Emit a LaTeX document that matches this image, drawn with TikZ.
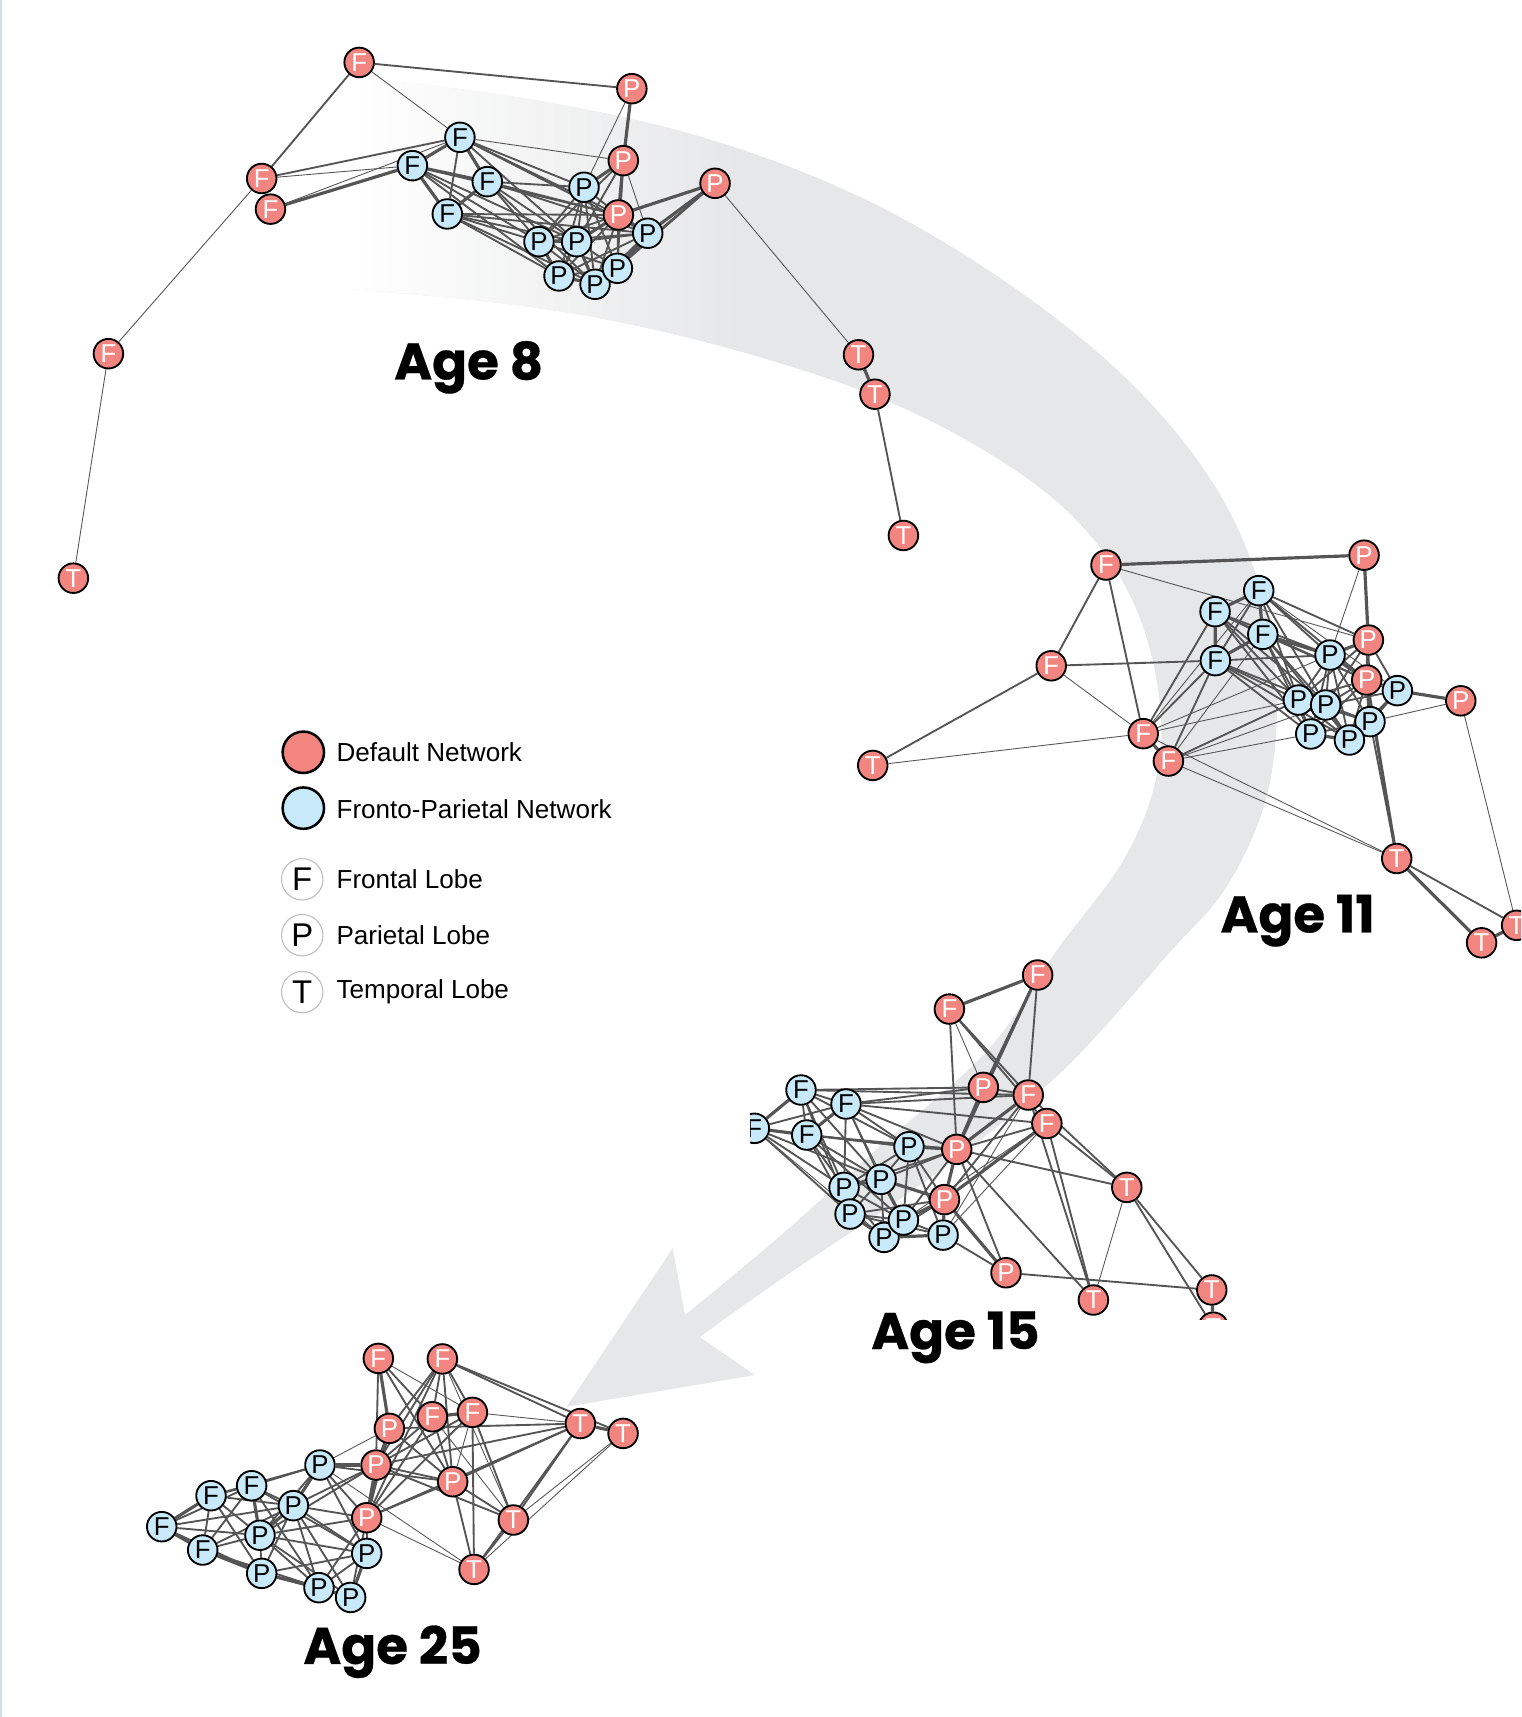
\documentclass[tikz,border=0pt]{standalone}
\usepackage{fontspec}
\setmainfont{Liberation Sans}
\newfontfamily\agefont{Poppins}[BoldFeatures={FakeBold=0.6}]
\definecolor{nodered}{RGB}{243,133,128}
\definecolor{nodeblue}{RGB}{200,233,250}
\definecolor{edgegray}{RGB}{85,85,85}
\definecolor{bandgray}{RGB}{230,231,232}
\definecolor{ringgray}{RGB}{190,190,190}
\definecolor{sideline}{RGB}{205,222,236}
\pgfdeclarehorizontalshading{bandshade}{100bp}{color(0bp)=(white); color(25bp)=(white); color(46bp)=(bandgray); color(100bp)=(bandgray)}
\pgfdeclarelayer{bandlayer}
\pgfdeclarelayer{edgelayer}
\pgfsetlayers{bandlayer,edgelayer,main}
\newcommand\bandshape[1]{\path[#1] plot[smooth,tension=0.6] coordinates {(320,70) (480,90) (640,125) (790,182) (925,262) (1035,352) (1112,448) (1153,545) (1166,640) (1156,730) (1120,810) (1068,870) (968,980) (850,1075) (712,1169) (639,1221)} -- (689.5,1255.7) -- (517.5,1284.6) -- (614.3,1140) -- plot[smooth,tension=0.6] coordinates {(625.6,1200.9) (712,1129) (800,1050) (902,959) (965,868) (1028,782) (1058,700) (1056,620) (1030,540) (978,470) (900,412) (800,362) (680,322) (560,293) (450,276) (320,264)} -- cycle;}
\begin{document}
\begin{tikzpicture}[x=0.5pt,y=-0.5pt,
  nd/.style={circle,draw=black,line width=0.85pt,minimum size=13.5pt,inner sep=0pt,font=\fontsize{11.8}{12}\selectfont},
  rd/.style={nd,fill=nodered,text=white},
  bl/.style={nd,fill=nodeblue,text=black},
  e1/.style={draw=edgegray,line width=0.4pt},
  e2/.style={draw=edgegray,line width=0.85pt},
  e3/.style={draw=edgegray,line width=1.45pt},
  lgdot/.style={circle,draw=black,line width=1.15pt,minimum size=18.9pt,inner sep=0pt},
  lglobe/.style={circle,draw=ringgray,line width=0.5pt,minimum size=18.9pt,inner sep=0pt,font=\fontsize{15}{16}\selectfont},
  lgtext/.style={anchor=west,inner sep=0pt,font=\fontsize{11.9}{14}\selectfont},
  agelbl/.style={anchor=base,inner sep=0pt,font=\agefont\bfseries\fontsize{23.5}{26}\selectfont}]
\useasboundingbox (0,0) rectangle (1389,1568);
\clip (0,0) rectangle (1389,1568);
\fill[sideline] (0,0) rectangle (1.5,1568);

% ---------- band arrow ----------
\begin{pgfonlayer}{bandlayer}
\bandshape{fill=bandgray}
\begin{scope}
\clip (0,0) rectangle (760,420);
\bandshape{shade,shading=bandshade}
\end{scope}
\end{pgfonlayer}

% ---------- Age 8 ----------
\node[rd] (aF1) at (328,57) {F};
\node[rd] (aP1) at (577,81) {P};
\node[rd] (aF2) at (239,163) {F};
\node[rd] (aF3) at (247,191) {F};
\node[rd] (aF4) at (99,323) {F};
\node[rd] (aT1) at (67,528) {T};
\node[bl] (aB1) at (420,125.4) {F};
\node[bl] (aB2) at (376.6,151.3) {F};
\node[bl] (aB3) at (445,165.9) {F};
\node[bl] (aB4) at (408.5,195.4) {F};
\node[rd] (aR2) at (569.2,146.7) {P};
\node[bl] (aB5) at (533.3,171) {P};
\node[rd] (aR3) at (564.7,196.3) {P};
\node[rd] (aR4) at (653,167.4) {P};
\node[bl] (aB6) at (492.2,220.7) {P};
\node[bl] (aB7) at (526.6,220.7) {P};
\node[bl] (aB8) at (591.5,213) {P};
\node[bl] (aB9) at (510.5,252) {P};
\node[bl] (aB10) at (543.4,259.6) {P};
\node[bl] (aB11) at (563.8,245) {P};
\node[rd] (aT2) at (784,324) {T};
\node[rd] (aT3) at (799,360) {T};
\node[rd] (aT4) at (825,489) {T};
\node[agelbl] (lab8) at (428,346.5) {Age 8};

% ---------- Age 11 ----------
\node[rd] (bF1) at (1010,516) {F};
\node[rd] (bP1) at (1245.7,507) {P};
\node[rd] (bF2) at (960,608) {F};
\node[rd] (bT1) at (797,699) {T};
\node[rd] (bF3) at (1044,670) {F};
\node[rd] (bF4) at (1067,695) {F};
\node[rd] (bT2) at (1275.5,784) {T};
\node[rd] (bT3) at (1353,861) {T};
\node[rd] (bT4) at (1385,845) {T};
\node[rd] (bR5) at (1334,640) {P};
\node[bl] (bB1) at (1149.5,539.4) {F};
\node[bl] (bB2) at (1109.6,558.6) {F};
\node[bl] (bB3) at (1153.2,579.3) {F};
\node[bl] (bB4) at (1109.9,603.3) {F};
\node[rd] (bR2) at (1249.6,584.5) {P};
\node[bl] (bB5) at (1214.6,598.2) {P};
\node[rd] (bR3) at (1248.1,621) {P};
\node[bl] (bB6) at (1276.1,630.7) {P};
\node[bl] (bB7) at (1185.7,639.3) {P};
\node[bl] (bB8) at (1210.6,643.8) {P};
\node[bl] (bB9) at (1251.1,659) {P};
\node[bl] (bB10) at (1197,670.3) {P};
\node[bl] (bB11) at (1232.3,675.8) {P};
\node[agelbl] (lab11) at (1185,851.5) {Age 11};

% ---------- Age 15 ----------
\begin{scope}
\clip (685,860) rectangle (1200,1205);
\node[rd] (cF1) at (947.6,890.4) {F};
\node[rd] (cF2) at (867,921.5) {F};
\node[rd] (cR1) at (898,993) {P};
\node[rd] (cF3) at (939,1000) {F};
\node[rd] (cF4) at (956,1026) {F};
\node[rd] (cR2) at (873.7,1049.6) {P};
\node[rd] (cR3) at (862.5,1095.5) {P};
\node[rd] (cR4) at (918.7,1162.3) {P};
\node[rd] (cT1) at (1029,1084.3) {T};
\node[rd] (cT2) at (998.5,1187.2) {T};
\node[rd] (cT3) at (1106.6,1178) {T};
\node[rd] (cT4) at (1108,1212) {T};
\node[bl] (cB1) at (731.5,995.4) {F};
\node[bl] (cB2) at (772.6,1008.2) {F};
\node[bl] (cB3) at (688.9,1030.4) {F};
\node[bl] (cB4) at (736.7,1036.5) {F};
\node[bl] (cB5) at (830.1,1047.2) {P};
\node[bl] (cB6) at (804.6,1077) {P};
\node[bl] (cB7) at (770.8,1084.3) {P};
\node[bl] (cB8) at (776.3,1108.7) {P};
\node[bl] (cB10) at (807.3,1130) {P};
\node[bl] (cB9) at (825,1114.2) {P};
\node[bl] (cB11) at (861.2,1127.9) {P};
\end{scope}
\node[agelbl] (lab15) at (872.5,1232) {Age 15};

% ---------- Age 25 ----------
\node[rd] (dF1) at (345.5,1240.5) {F};
\node[rd] (dF2) at (404,1241) {F};
\node[rd] (dF3) at (394.8,1293.8) {F};
\node[rd] (dF4) at (431.4,1289.8) {F};
\node[rd] (dR1) at (355.6,1304.4) {P};
\node[bl] (dB1) at (292.2,1337.9) {P};
\node[rd] (dR2) at (343.4,1337.9) {P};
\node[rd] (dR3) at (413.4,1353.1) {P};
\node[rd] (dT1) at (530,1300) {T};
\node[rd] (dT2) at (569,1309) {T};
\node[rd] (dT3) at (468.8,1388.1) {T};
\node[rd] (dT4) at (432.9,1433.2) {T};
\node[bl] (dB2) at (229.8,1356.8) {F};
\node[bl] (dB3) at (192.7,1365.9) {F};
\node[bl] (dB4) at (267.9,1375) {P};
\node[rd] (dR4) at (334.9,1386) {P};
\node[bl] (dB5) at (147.7,1394.2) {F};
\node[bl] (dB6) at (237.4,1402) {P};
\node[bl] (dB7) at (185.1,1415.5) {F};
\node[bl] (dB8) at (334.9,1418.6) {P};
\node[bl] (dB9) at (239,1436.8) {P};
\node[bl] (dB10) at (291.3,1449.9) {P};
\node[bl] (dB11) at (320.2,1458.8) {P};
\node[agelbl] (lab25) at (358.5,1519.5) {Age 25};

% ---------- legend ----------
\node[lgdot,fill=nodered] (lgR) at (277,687) {};
\node[lgdot,fill=nodeblue] (lgB) at (277,738) {};
\node[lglobe] (lgF) at (276,803) {F};
\node[lglobe] (lgP) at (276,854) {P};
\node[lglobe] (lgT) at (276,906) {T};
\node[lgtext] (lgRt) at (307,687) {Default Network};
\node[lgtext] (lgBt) at (307,739) {Fronto-Parietal Network};
\node[lgtext] (lgFt) at (307,803) {Frontal Lobe};
\node[lgtext] (lgPt) at (307,854) {Parietal Lobe};
\node[lgtext] (lgTt) at (307,906) {Temporal Lobe};

% ---------- edges ----------
\begin{pgfonlayer}{edgelayer}
% Age 8
\foreach \u/\v in {aF1/aB1, aF2/aF4, aF4/aT1, aP1/aB5, aR4/aT2, aB1/aR2, aF3/aB1, aF2/aB2, aR2/aB8, aP1/aR3}
  \draw[e1] (\u) -- (\v);
\foreach \u/\v in {aF1/aP1, aF1/aF2, aF2/aB1, aT3/aT4, aB1/aB4,
  aB1/aB5, aB1/aR3, aB1/aB8, aB1/aB7, aB2/aB6, aB2/aB9, aB2/aB7, aB2/aR3, aB3/aB5, aB3/aB6, aB3/aB7, aB3/aR3, aB3/aB10, aB3/aB8,
  aB4/aB7, aB4/aR3, aB4/aB9, aB4/aB6, aB4/aB10, aB4/aB8, aR2/aB6, aR2/aB7, aR2/aB11, aB5/aR3, aB5/aB6, aB5/aB7, aB5/aB9, aB5/aB10, aB5/aB11,
  aR3/aB6, aR3/aB9, aR3/aB10, aR3/aB11, aR4/aB11, aR4/aB10, aB6/aB7, aB6/aB10, aB6/aB11, aB7/aB11, aB7/aB8, aB8/aB10, aB9/aB11, aB6/aB8, aB9/aB8}
  \draw[e2] (\u) -- (\v);
\foreach \u/\v in {aF3/aB2, aP1/aR2, aT2/aT3, aB1/aB2, aB1/aB3, aB2/aB3, aB2/aB4, aB3/aB4, aR2/aB5, aR2/aR3, aR3/aR4, aR4/aB8,
  aR3/aB7, aR3/aB8, aB6/aB9, aB7/aB9, aB7/aB10, aB9/aB10, aB10/aB11, aB8/aB11}
  \draw[e3] (\u) -- (\v);
% Age 11
\foreach \u/\v in {bF1/bR2, bF2/bF3, bT1/bF3, bF3/bT2, bF4/bT2, bP1/bB5, bR5/bT4, bB9/bR5, bF3/bB1, bF4/bB3, bF4/bB8, bF3/bB7, bF4/bB10, bB1/bB6, bF3/bB5}
  \draw[e1] (\u) -- (\v);
\foreach \u/\v in {bF1/bF2, bF1/bF3, bF2/bT1, bF2/bB4, bT2/bT4, bB9/bT2, bF3/bB2, bF3/bB4, bF4/bB4, bF4/bB7, bB1/bB4, bB2/bB3,
  bB1/bB5, bB1/bR2, bB1/bR3, bB1/bB7, bB1/bB8, bB2/bB5, bB2/bB7, bB2/bB8, bB2/bR3, bB3/bB7, bB3/bB8, bB3/bR3, bB3/bB10,
  bB4/bB7, bB4/bB8, bB4/bB10, bB4/bB11, bB4/bB5, bB3/bB11, bB2/bB10,
  bR2/bB6, bR2/bB7, bR2/bB8, bR2/bB9, bB5/bB7, bB5/bB8, bB5/bB9, bB5/bB10, bB5/bB11, bR3/bB7, bR3/bB8, bR3/bB10, bR3/bB11,
  bB6/bB11, bB7/bB10, bB7/bB11, bB7/bB9, bB8/bB9, bB9/bB10, bB6/bB8}
  \draw[e2] (\u) -- (\v);
\foreach \u/\v in {bF1/bP1, bF3/bF4, bT3/bT4, bT2/bT3, bP1/bR2, bB6/bR5, bR3/bT2, bB1/bB2, bB1/bB3, bB2/bB4, bB3/bB4, bB3/bB5,
  bR2/bR3, bR2/bB5, bB5/bR3, bR3/bB6, bR3/bB9, bB7/bB8, bB8/bB10, bB10/bB11, bB9/bB11, bB6/bB9, bB8/bB11}
  \draw[e3] (\u) -- (\v);
% Age 25
\foreach \u/\v in {dF1/dF4, dF4/dT1, dF4/dR3, dR1/dB1, dR4/dT4, dT2/dT3, dT2/dT4, dF2/dT3, dF3/dT3, dB1/dT4}
  \draw[e1] (\u) -- (\v);
\foreach \u/\v in {dF1/dR2, dF1/dF3, dF1/dR3, dF2/dR1, dF2/dF3, dF2/dF4, dF2/dR2, dF2/dR3, dF2/dT1, dF2/dT2, dF2/dR4,
  dF3/dR2, dF3/dR3, dF3/dR4, dF4/dT3, dF4/dT4, dF4/dR2, dF4/dR4, dR1/dR2, dR1/dT1, dR1/dR3,
  dB1/dB3, dB1/dB2, dB1/dR4, dB1/dB6, dB1/dB8, dB1/dR3, dR2/dT1, dR2/dT3, dR2/dR3, dR2/dB4, dR2/dB6,
  dR3/dT3, dR3/dT4, dR3/dT1, dR3/dR4, dR4/dB8, dR4/dB11, dR4/dT1, dR4/dB4, dR4/dB6, dR4/dB10,
  dT1/dT3, dT1/dT4, dT3/dT4,
  dB5/dB2, dB5/dB4, dB5/dB6, dB5/dB9, dB3/dB2, dB3/dB7, dB3/dB4, dB3/dB6, dB3/dB9, dB2/dB4, dB2/dB7, dB2/dB10,
  dB7/dB6, dB7/dB4, dB7/dB10, dB4/dB9, dB4/dB10, dB4/dB11, dB4/dB8, dB6/dB9, dB6/dB10, dB6/dB8, dB6/dB11, dB9/dB11, dB8/dB9, dB8/dB10, dB2/dB8}
  \draw[e2] (\u) -- (\v);
\foreach \u/\v in {dF1/dR1, dF3/dF4, dR1/dR4, dB1/dR2, dB1/dB4, dR2/dR4, dT1/dT2,
  dB5/dB3, dB5/dB7, dB2/dB6, dB7/dB9, dB4/dB6, dB9/dB10, dB10/dB11, dB8/dB11}
  \draw[e3] (\u) -- (\v);
% Age 15 (clipped)
\begin{scope}
\clip (685,860) rectangle (1200,1205);
\foreach \u/\v in {cT1/cT2, cB11/cF4, cB11/cF3, cF2/cR1, cB2/cB9, cB3/cB10, cB9/cF4}
  \draw[e1] (\u) -- (\v);
\foreach \u/\v in {cF1/cR1, cF1/cF3, cF2/cR2, cF2/cF3, cF2/cF4, cR1/cF3, cB2/cF3, cB1/cF3, cB2/cF4, cB1/cR1, cB2/cR1,
  cR2/cF4, cR3/cF3, cF4/cT1, cF3/cT1, cF4/cT2, cF3/cT2, cR2/cT1, cR2/cT2, cR2/cR4, cB11/cR4, cR4/cT3, cT1/cT3, cT1/cT4,
  cB1/cB2, cB1/cB4, cB2/cB3,
  cB1/cB5, cB1/cB7, cB1/cB6, cB1/cB8, cB2/cB5, cB2/cB7, cB2/cB6, cB2/cR2, cB3/cB7, cB3/cB8, cB3/cB6, cB3/cB5,
  cB4/cB5, cB4/cB7, cB4/cB8, cB4/cB6, cB4/cB9, cB4/cR2, cB5/cB6, cB5/cB7, cB5/cB9, cB5/cR3, cB5/cB11,
  cB6/cB8, cB6/cB10, cB6/cR2, cB7/cB9, cB7/cB10, cB7/cR2, cB8/cB9, cB8/cB11, cB9/cB11, cB9/cR2, cB10/cR3, cB8/cR3}
  \draw[e2] (\u) -- (\v);
\foreach \u/\v in {cF1/cF2, cF1/cR2, cR1/cR2, cR2/cF3, cR3/cF4, cR3/cR4, cT3/cT4, cR2/cR3, cB5/cR2,
  cB3/cB1, cB3/cB4, cB2/cB4, cB6/cB7, cB6/cB9, cB7/cB8, cB8/cB10, cB9/cB10, cB10/cB11, cB9/cR3, cB6/cR3, cB11/cR3}
  \draw[e3] (\u) -- (\v);
\end{scope}
\end{pgfonlayer}
\end{tikzpicture}
\end{document}
